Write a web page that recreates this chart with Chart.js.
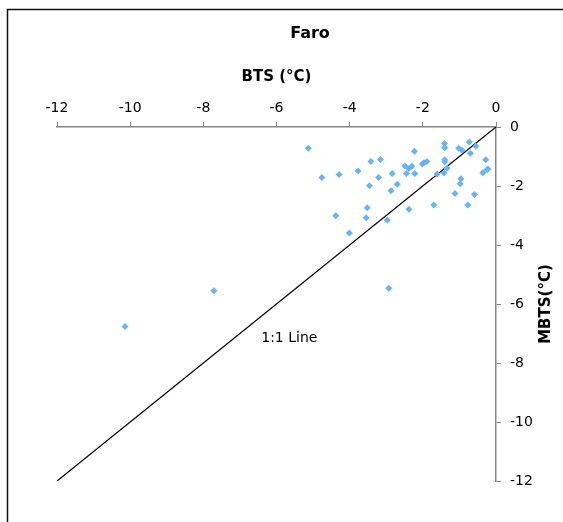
<!DOCTYPE html>
<html>
<head>
<meta charset="utf-8">
<script src="https://cdn.jsdelivr.net/npm/chart.js@4/dist/chart.umd.min.js"></script>
<style>
  html, body { margin: 0; padding: 0; background: #fff; }
  #wrap { width: 563px; height: 522px; }
</style>
</head>
<body>
<div id="wrap"><canvas id="c" width="563" height="522"></canvas></div>
<script>
// Faro: bottom temperature of snow (BTS) against mean BTS, both in °C
const titleText = 'Faro';
const xTitle = 'BTS (°C)';
const yTitle = 'MBTS(°C)';

const bts = [
  -5.13, -4.76, -4.29, -4.38, -4.01, -3.77, -3.42, -3.16, -3.46, -3.52,
  -3.55, -3.21, -2.84, -2.87, -2.70, -2.97, -2.49, -2.38, -2.30, -2.45,
  -2.23, -2.22, -2.38, -2.01, -1.97, -1.89, -1.70, -1.61, -1.41, -1.40,
  -1.40, -1.40, -1.42, -1.34, -1.02, -0.93, -0.73, -0.55, -0.70, -0.96,
  -0.98, -1.12, -0.77, -0.59, -0.28, -0.36, -0.25, -0.22,
  -7.71, -10.14, -2.93
];
const mbts = [
  -0.72, -1.71, -1.61, -3.01, -3.59, -1.49, -1.17, -1.10, -1.99, -2.74,
  -3.08, -1.71, -1.58, -2.16, -1.94, -3.15, -1.32, -1.41, -1.33, -1.58,
  -0.82, -1.58, -2.79, -1.25, -1.21, -1.17, -2.64, -1.59, -0.56, -0.70,
  -1.11, -1.18, -1.56, -1.40, -0.72, -0.79, -0.51, -0.65, -0.89, -1.75,
  -1.92, -2.25, -2.64, -2.29, -1.11, -1.55, -1.45, -1.42,
  -5.55, -6.76, -5.47
];

// 1:1 reference line end points and its label
const oneToOne = [-12, 0];
const lineLabel = '1:1 Line';
const lineLabelAt = { x: -5.65, y: -7.15 };

const axisMin = -12, axisMax = 0, axisStep = 2;

const points = bts.map((v, i) => ({ x: v, y: mbts[i] }));
const linePts = oneToOne.map(v => ({ x: v, y: v }));

const FONT = "'DejaVu Sans', Verdana, sans-serif";
const AXIS_GREY = '#868686';

const framePlugin = {
  id: 'frame',
  beforeDraw(chart) {
    const ctx = chart.ctx;
    ctx.save();
    ctx.fillStyle = '#fff';
    ctx.fillRect(0, 0, chart.width, chart.height);
    ctx.strokeStyle = '#111';
    ctx.lineWidth = 1.5;
    ctx.strokeRect(7.5, 9.5, 700, 700);
    ctx.restore();
  }
};

const textPlugin = {
  id: 'extraText',
  afterDraw(chart) {
    const ctx = chart.ctx;
    const { x, y } = chart.scales;
    const area = chart.chartArea;
    ctx.save();
    ctx.fillStyle = '#000';
    // 1:1 line label
    ctx.font = '14px ' + FONT;
    ctx.textAlign = 'center';
    ctx.textBaseline = 'middle';
    ctx.fillText(lineLabel, x.getPixelForValue(lineLabelAt.x), y.getPixelForValue(lineLabelAt.y));
    // vertical axis title, reading upwards
    ctx.translate(546, (area.top + area.bottom) / 2);
    ctx.rotate(-Math.PI / 2);
    ctx.font = 'bold 15px ' + FONT;
    ctx.fillText(yTitle, 0, 0);
    ctx.restore();
  }
};

new Chart(document.getElementById('c'), {
  type: 'scatter',
  data: {
    datasets: [
      {
        type: 'line',
        data: linePts,
        borderColor: '#000',
        borderWidth: 1.3,
        pointRadius: 0,
        fill: false,
        order: 2
      },
      {
        data: points,
        pointStyle: 'rectRot',
        pointRadius: 3.5,
        pointBorderWidth: 0,
        backgroundColor: '#66b3ff',
        borderColor: '#66b3ff',
        order: 1
      }
    ]
  },
  options: {
    responsive: false,
    animation: false,
    events: [],
    layout: { padding: { left: 57, right: 0, top: 0, bottom: 41 } },
    plugins: {
      legend: { display: false },
      tooltip: { enabled: false },
      title: {
        display: true,
        text: titleText,
        color: '#000',
        font: { family: FONT, size: 16, weight: 'bold' },
        padding: { top: 24.4, bottom: 0 }
      }
    },
    scales: {
      x: {
        type: 'linear',
        position: 'top',
        min: axisMin,
        max: axisMax,
        afterFit(scale) { scale.height = 83.4; },
        ticks: {
          stepSize: axisStep,
          color: '#000',
          padding: 5,
          font: { family: FONT, size: 14 }
        },
        grid: {
          drawOnChartArea: false,
          drawTicks: true,
          tickLength: 5,
          color: AXIS_GREY,
          lineWidth: 1
        },
        border: { color: AXIS_GREY, width: 1.5 },
        title: {
          display: true,
          text: xTitle,
          color: '#000',
          font: { family: FONT, size: 15, weight: 'bold' },
          padding: { top: 25, bottom: 0 }
        }
      },
      y: {
        type: 'linear',
        position: 'right',
        min: axisMin,
        max: axisMax,
        afterFit(scale) { scale.width = 67; },
        ticks: {
          stepSize: axisStep,
          color: '#000',
          padding: 9,
          font: { family: FONT, size: 14 }
        },
        grid: {
          drawOnChartArea: false,
          drawTicks: true,
          tickLength: 5,
          color: AXIS_GREY,
          lineWidth: 1
        },
        border: { color: AXIS_GREY, width: 1.5 }
      }
    }
  },
  plugins: [framePlugin, textPlugin]
});
</script>
</body>
</html>
